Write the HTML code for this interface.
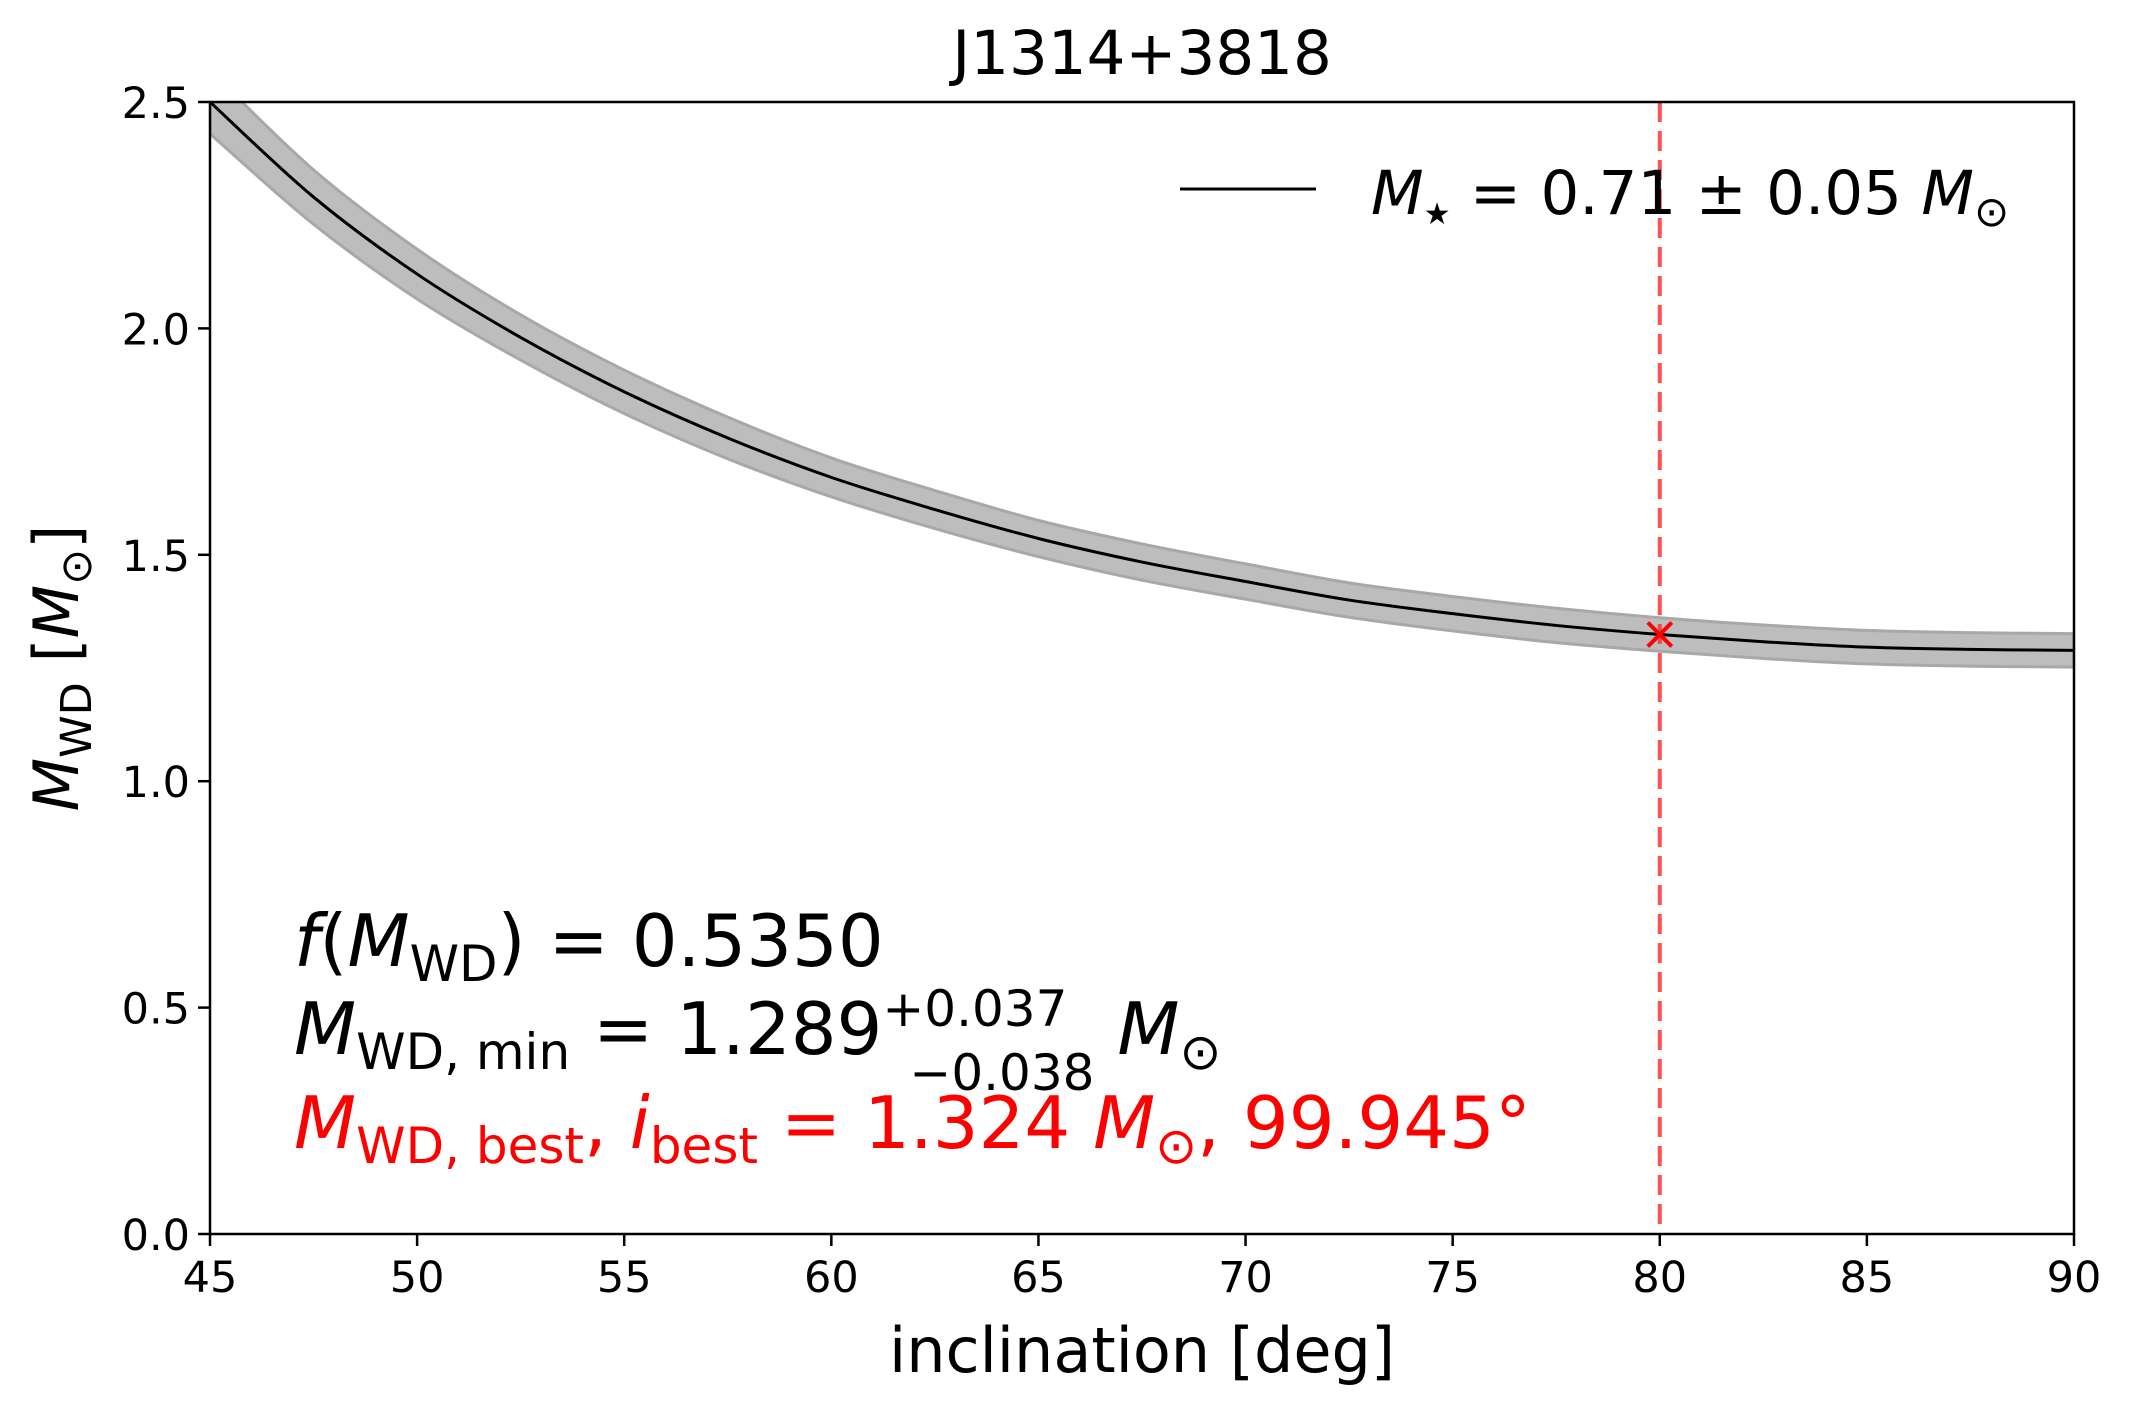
<!DOCTYPE html>
<html><head><meta charset="utf-8"><style>
html,body{margin:0;padding:0;background:#fff;}
svg{display:block;font-family:"DejaVu Sans","Liberation Sans",sans-serif;}
</style></head><body>
<svg id="chart" width="2132" height="1415" viewBox="0 0 2132 1415">
<rect x="0" y="0" width="2132" height="1415" fill="#fff"/>
<g id="plot"></g>
<text x="1142" y="74" font-size="61" text-anchor="middle">J1314+3818</text>
<text x="1142" y="1372" font-size="62" text-anchor="middle">inclination [deg]</text>
<text transform="translate(78,668) rotate(-90)" font-size="62" text-anchor="middle"><tspan font-style="italic">M</tspan><tspan font-size="43" dy="13">WD</tspan><tspan dy="-13"> [</tspan><tspan font-style="italic">M</tspan><tspan font-size="43" dy="13">⊙</tspan><tspan dy="-13">]</tspan></text>
<g>
<line x1="1180" y1="189" x2="1316" y2="189" stroke="#000" stroke-width="3"/>
<text x="1371" y="214" font-size="61"><tspan font-style="italic">M</tspan><tspan font-size="30" dy="10">★</tspan><tspan dy="-10"> = 0.71 ± 0.05 </tspan><tspan font-style="italic">M</tspan><tspan font-size="42" dy="12">⊙</tspan></text>
</g>
<g>
<text x="294" y="966" font-size="72"><tspan font-style="italic">f</tspan>(<tspan font-style="italic">M</tspan><tspan font-size="50" dy="15">WD</tspan><tspan dy="-15">) = 0.5350</tspan></text>
<text x="294" y="1054" font-size="72"><tspan font-style="italic">M</tspan><tspan font-size="50" dy="15">WD, min</tspan><tspan dy="-15"> = 1.289</tspan><tspan font-size="50" dy="-28">+0.037</tspan><tspan font-size="50" dx="-158" dy="64">−0.038</tspan><tspan dy="-36" font-style="italic"> M</tspan><tspan font-size="50" dy="15">⊙</tspan></text>
<text x="294" y="1148" font-size="72" fill="#ff0000"><tspan font-style="italic">M</tspan><tspan font-size="50" dy="15">WD, best</tspan><tspan dy="-15">, </tspan><tspan font-style="italic">i</tspan><tspan font-size="50" dy="15">best</tspan><tspan dy="-15"> = 1.324 </tspan><tspan font-style="italic">M</tspan><tspan font-size="50" dy="15">⊙</tspan><tspan dy="-15">, 99.945°</tspan></text>
</g>
</svg>
<script>
const incl = [45,47.5,50,52.5,55,57.5,60,62.5,65,67.5,70,72.5,75,77.5,80,82.5,85,87.5,90];
const mass = [2.50,2.29,2.12,1.98,1.86,1.758,1.671,1.60,1.536,1.484,1.441,1.40,1.37,1.344,1.324,1.308,1.296,1.291,1.289];
const massLow = [2.43,2.23,2.065,1.93,1.812,1.712,1.628,1.558,1.496,1.444,1.402,1.362,1.332,1.306,1.287,1.271,1.259,1.254,1.252];
const massHigh = [2.57,2.35,2.175,2.03,1.908,1.804,1.714,1.642,1.576,1.524,1.480,1.438,1.408,1.382,1.361,1.345,1.333,1.328,1.326];
const xTicks = [45,50,55,60,65,70,75,80,85,90];
const xTickLabels = ["45","50","55","60","65","70","75","80","85","90"];
const yTicks = [0,0.5,1.0,1.5,2.0,2.5];
const yTickLabels = ["0.0","0.5","1.0","1.5","2.0","2.5"];
const bestIncl = [80];
const bestMass = [1.324];

const L=210,R=2074,T=102,B=1234;
const xMin=45,xMax=90,yMin=0,yMax=2.5;
function xs(v){return L+(v-xMin)/(xMax-xMin)*(R-L);}
function ys(v){return B-(v-yMin)/(yMax-yMin)*(B-T);}
const NS="http://www.w3.org/2000/svg";
const g=document.getElementById('plot');
function mk(tag,attrs,parent){const e=document.createElementNS(NS,tag);for(const k in attrs)e.setAttribute(k,attrs[k]);(parent||g).appendChild(e);return e;}
function segs(xa,ya){let p='';for(let i=0;i<xa.length-1;i++){const n=xa.length-1;const x0=xa[Math.max(i-1,0)],y0=ya[Math.max(i-1,0)],x1=xa[i],y1=ya[i],x2=xa[i+1],y2=ya[i+1],x3=xa[Math.min(i+2,n)],y3=ya[Math.min(i+2,n)];p+='C'+(x1+(x2-x0)/6)+','+(y1+(y2-y0)/6)+' '+(x2-(x3-x1)/6)+','+(y2-(y3-y1)/6)+' '+x2+','+y2;}return p;}
function smooth(xa,ya){return 'M'+xa[0]+','+ya[0]+segs(xa,ya);}

const defs=mk('defs',{});
const cp=mk('clipPath',{id:'clip'},defs);
mk('rect',{x:L,y:T,width:R-L,height:B-T},cp);
const area=mk('g',{'clip-path':'url(#clip)'});



const hx=incl.map(xs), hy=massHigh.map(ys);
const lx=incl.map(xs).reverse(), ly=massLow.map(ys).reverse();
const bd=smooth(hx,hy)+'L'+lx[0]+','+ly[0]+segs(lx,ly)+'Z';
const band=mk('path',{d:bd,fill:'#bdbdbd',stroke:'#a8a8a8','stroke-width':3},area);



const curve=mk('path',{d:smooth(incl.map(xs),mass.map(ys)),fill:'none',stroke:'#000','stroke-width':3},area);



const vline=mk('line',{x1:xs(bestIncl[0]),x2:xs(bestIncl[0]),y1:T,y2:B,stroke:'#ff3333','stroke-opacity':0.85,'stroke-width':4,'stroke-dasharray':'20 9'});



const mx=xs(bestIncl[0]),my=ys(bestMass[0]);
const marker=mk('path',{d:`M${mx-12},${my-12}L${mx+12},${my+12}M${mx-12},${my+12}L${mx+12},${my-12}`,stroke:'#ff0000','stroke-width':4});



const frame=mk('rect',{x:L,y:T,width:R-L,height:B-T,fill:'none',stroke:'#000','stroke-width':2.5});



xTicks.forEach((v,i)=>{
  const t=mk('line',{x1:xs(v),x2:xs(v),y1:B,y2:B+12,stroke:'#000','stroke-width':2.5});
  
  
  const l=mk('text',{x:xs(v),y:B+58,'font-size':43,'text-anchor':'middle'});
  l.textContent=xTickLabels[i];
  
  
});
yTicks.forEach((v,i)=>{
  const t=mk('line',{x1:L-12,x2:L,y1:ys(v),y2:ys(v),stroke:'#000','stroke-width':2.5});
  
  
  const l=mk('text',{x:L-20,y:ys(v)+16,'font-size':43,'text-anchor':'end'});
  l.textContent=yTickLabels[i];
  
  
});
</script>
</body></html>
